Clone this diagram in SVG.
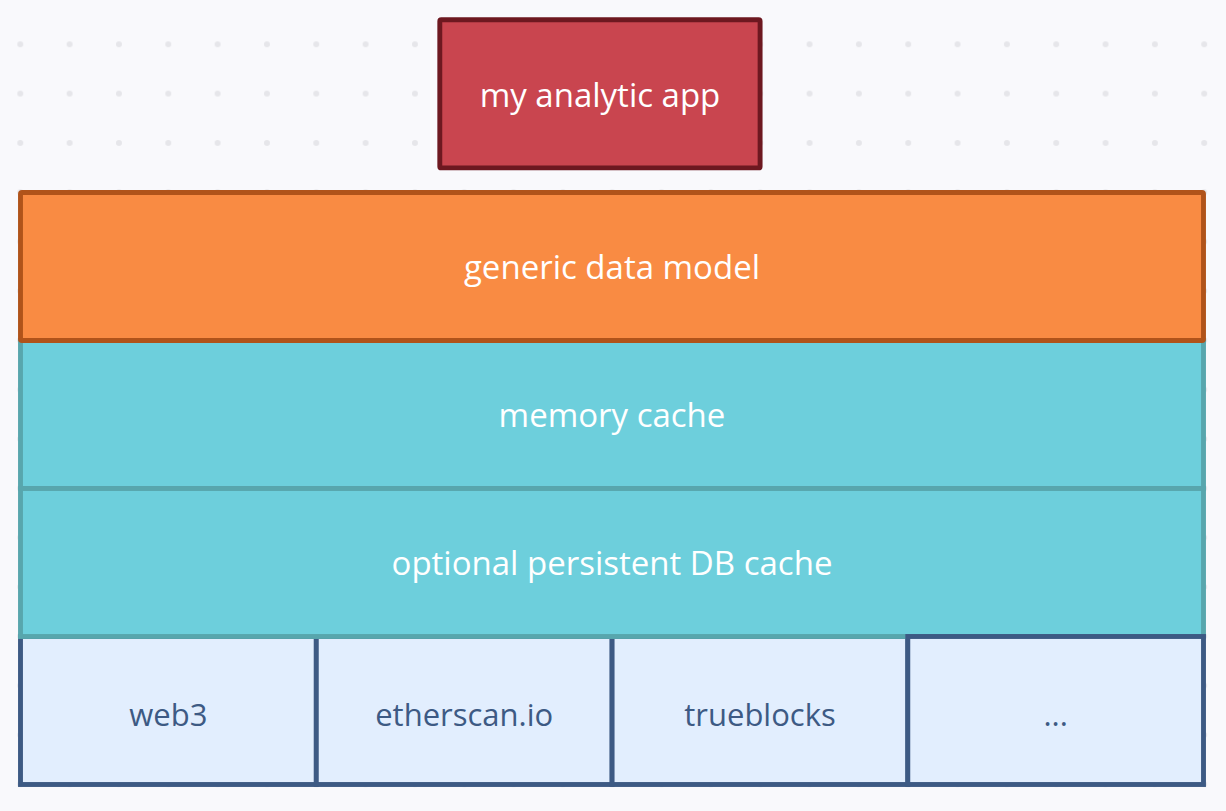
<svg xmlns="http://www.w3.org/2000/svg" width="1226" height="811" viewBox="0 0 1226 811">
<defs>
<pattern id="dots" patternUnits="userSpaceOnUse" x="-4.37" y="-29.7" width="49.33" height="49.33">
<circle cx="24.67" cy="24.67" r="3" fill="#e6e6ea"/>
</pattern>
<style>
.lbl{font-family:"Open Sans","Noto Sans",sans-serif;font-size:33px;text-anchor:middle;dominant-baseline:central}
.w{fill:#ffffff}
.b{fill:#3d5a84;font-size:31px}
.app{fill:#c9454f;stroke:#6d1820;stroke-width:4.9}
.gen{fill:#f98b43;stroke:#b0531a;stroke-width:4.9}
.cache{fill:#6dcfdc;stroke:#58a6ad;stroke-width:4.9}
.src{fill:#e2eefe;stroke:#3d5a84;stroke-width:4.9}
</style>
</defs>
<rect width="1226" height="811" fill="#f9f9fc"/>
<rect width="1226" height="811" fill="url(#dots)"/>
<g id="web3"><rect class="src" x="20.5" y="636.5" width="295.8" height="148"/><text class="lbl b" x="168.4" y="713.5">web3</text></g>
<g id="etherscan"><rect class="src" x="316.3" y="636.5" width="295.8" height="148"/><text class="lbl b" x="464.2" y="713.5">etherscan.io</text></g>
<g id="trueblocks"><rect class="src" x="612.1" y="636.5" width="295.7" height="148"/><text class="lbl b" x="760" y="713.5">trueblocks</text></g>
<g id="memory"><rect class="cache" x="20.5" y="340.5" width="1183" height="148"/><text class="lbl w" x="612" y="414">memory cache</text></g>
<g id="db"><rect class="cache" x="20.5" y="488.5" width="1183" height="148"/><text class="lbl w" x="612" y="562">optional persistent DB cache</text></g>
<g id="generic"><rect class="gen" x="20.5" y="192.5" width="1183" height="148" rx="1.5"/><text class="lbl w" x="612" y="266">generic data model</text></g>
<g id="more"><rect class="src" x="907.8" y="636.5" width="295.7" height="148"/><text class="lbl b" x="1055.7" y="713.5">...</text></g>
<g id="app"><rect class="app" x="439.8" y="19.7" width="320.3" height="148.2" rx="1.5"/><text class="lbl w" x="600" y="94">my analytic app</text></g>
<g id="connectors"></g>
</svg>
